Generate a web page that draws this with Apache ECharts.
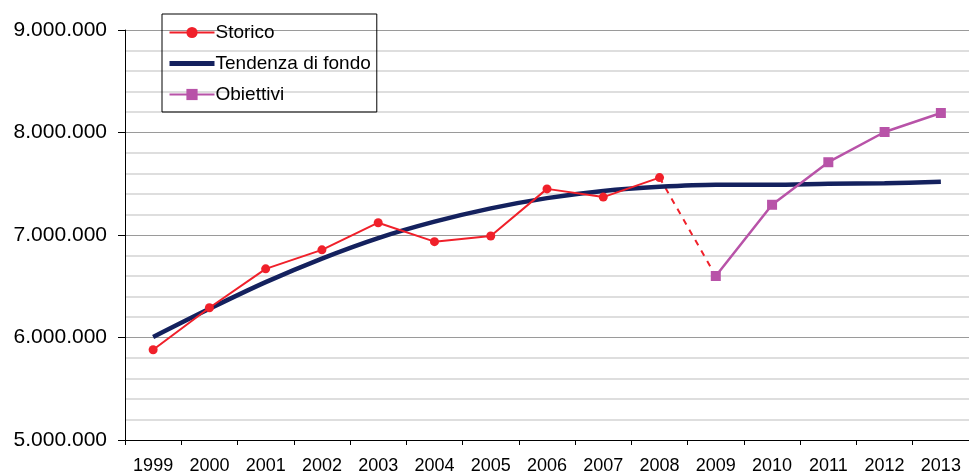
<!DOCTYPE html>
<html style="height: 100%">
<head>
<meta charset="utf-8">
<style type="text/css">
  body, html { margin: 0; width: 100%; height: 100%; overflow: hidden; background: #fff; }
  #display { width: 969px; height: 476px; }
</style>
</head>
<body>
<div id="display"></div>
<script type="text/javascript" src="https://cdn.jsdelivr.net/npm/echarts@6/dist/echarts.min.js"></script>
<script type="text/javascript">
var years = ['1999','2000','2001','2002','2003','2004','2005','2006','2007','2008','2009','2010','2011','2012','2013'];
var storico = [5880000, 6290000, 6670000, 6855000, 7120000, 6935000, 6990000, 7450000, 7370000, 7560000, null, null, null, null, null];
// dashed link between last historic point and first target
var storicoGap = [null, null, null, null, null, null, null, null, null, 7560000, 6600000, null, null, null, null];
var tendenza = [6005000, 6280000, 6540000, 6770000, 6970000, 7130000, 7260000, 7360000, 7430000, 7470000, 7490000, 7490000, 7500000, 7505000, 7520000];
var obiettivi = [null, null, null, null, null, null, null, null, null, null, 6600000, 7295000, 7710000, 8005000, 8190000];

var chart = echarts.init(document.getElementById('display'));
var font = '"Liberation Sans", Arial, sans-serif';
var red = '#f0202a', navy = '#14215e', purple = '#b853a8';

function fmt(v) {
  return String(v).replace(/\B(?=(\d{3})+(?!\d))/g, '.');
}

var option = {
  animation: false,
  backgroundColor: '#fff',
  grid: { left: 125, top: 30, width: 847, bottom: 36 },
  legend: {
    orient: 'vertical',
    left: 162, top: 14,
    padding: [9, 6, 8, 5],
    borderColor: '#000', borderWidth: 1,
    itemWidth: 45, itemHeight: 14, itemGap: 12,
    textStyle: { fontFamily: font, fontSize: 19, color: '#000', padding: [0, 0, 0, -4] },
    data: [
      'Storico',
      { name: 'Tendenza di fondo', lineStyle: { width: 5, color: navy } },
      'Obiettivi'
    ]
  },
  xAxis: {
    type: 'category',
    boundaryGap: true,
    data: years,
    axisLine: { lineStyle: { color: '#000', width: 1 } },
    axisTick: { show: true, interval: 0, length: 5, lineStyle: { color: '#000' } },
    axisLabel: { interval: 0, fontFamily: font, fontSize: 18, color: '#000', margin: 17 },
    splitLine: { show: false }
  },
  yAxis: {
    type: 'value',
    min: 5000000, max: 9000000, interval: 1000000,
    axisLine: { show: true, lineStyle: { color: '#000', width: 1 } },
    axisTick: { show: true, length: 7, lineStyle: { color: '#000' } },
    axisLabel: { fontFamily: font, fontSize: 21, color: '#000', margin: 18, formatter: fmt },
    splitLine: { lineStyle: { color: '#9a9a9a', width: 1 } },
    minorTick: { show: false, splitNumber: 5 },
    minorSplitLine: { show: true, lineStyle: { color: '#d4d4d4', width: 1.5 } }
  },
  series: [
    {
      name: 'Storico', type: 'line', data: storico,
      symbol: 'circle', symbolSize: 9,
      lineStyle: { color: red, width: 2 },
      itemStyle: { color: red },
      z: 4
    },
    {
      name: 'StoricoGap', type: 'line', data: storicoGap,
      symbol: 'none',
      lineStyle: { color: red, width: 2, type: [6, 6] },
      z: 3
    },
    {
      name: 'Tendenza di fondo', type: 'line', data: tendenza,
      symbol: 'circle', showSymbol: false, smooth: 0.3,
      lineStyle: { color: navy, width: 4.5 },
      itemStyle: { color: 'rgba(0,0,0,0)', borderWidth: 0 },
      z: 3
    },
    {
      name: 'Obiettivi', type: 'line', data: obiettivi,
      symbol: 'rect', symbolSize: 10,
      lineStyle: { color: purple, width: 2.5 },
      itemStyle: { color: purple },
      z: 5
    }
  ]
};
chart.setOption(option);
</script>
</body>
</html>
